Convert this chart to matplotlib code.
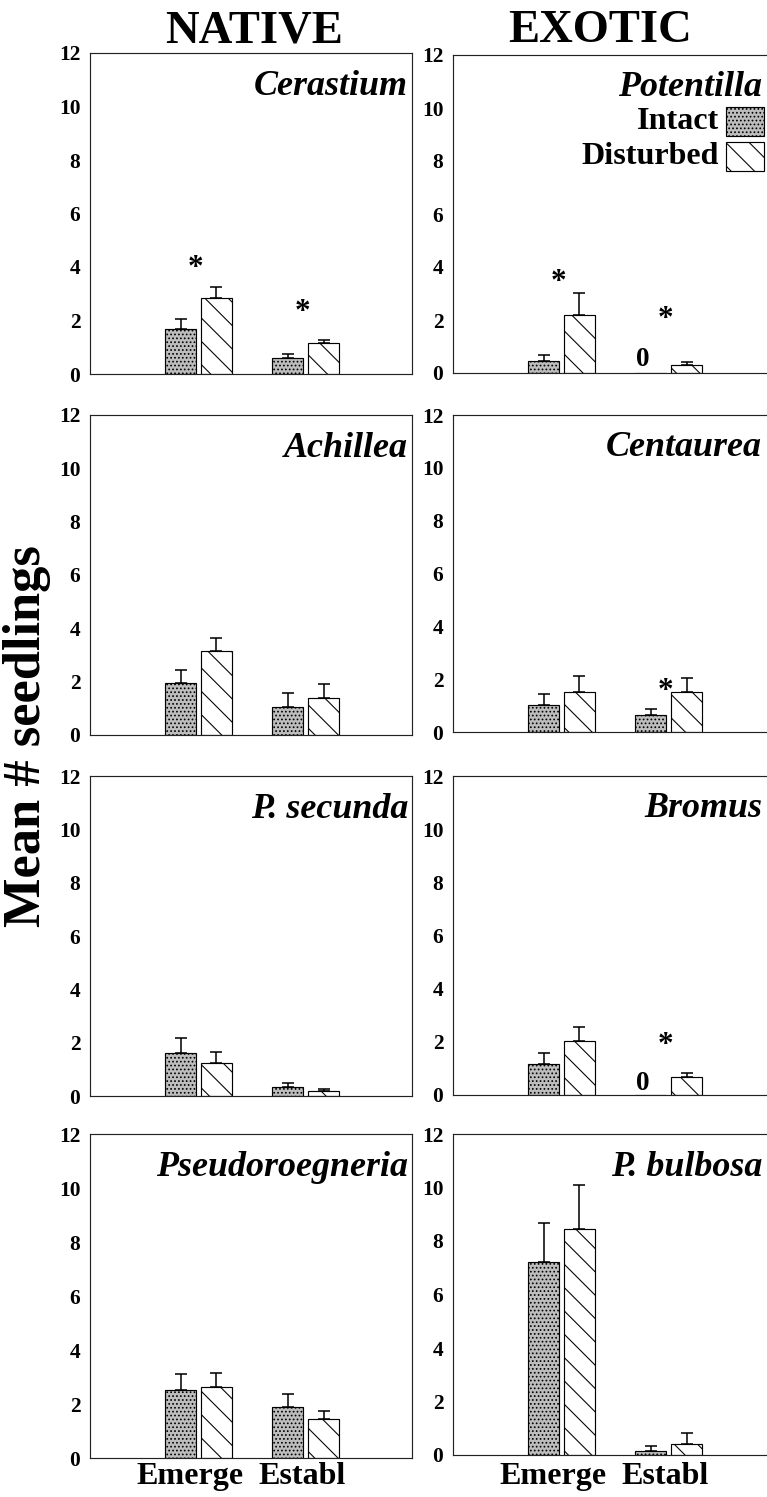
import matplotlib
matplotlib.use('Agg')
import matplotlib.pyplot as plt
from matplotlib.patches import Rectangle
import numpy as np

plt.rcParams['font.family'] = ['Liberation Serif', 'DejaVu Serif']
plt.rcParams['font.weight'] = 'bold'
plt.rcParams['hatch.linewidth'] = 0.55
plt.rcParams['hatch.color'] = 'black'

# ---------------- data ----------------
stages = ['Emerge', 'Establ']
native_species = ['Cerastium', 'Achillea', 'P. secunda', 'Pseudoroegneria']
exotic_species = ['Potentilla', 'Centaurea', 'Bromus', 'P. bulbosa']
species = native_species + exotic_species

intact_emerge = [1.68, 1.95, 1.60, 2.52, 0.46, 1.02, 1.17, 7.20]
intact_establ = [0.61, 1.05, 0.35, 1.89, 0.00, 0.64, 0.00, 0.15]
disturbed_emerge = [2.85, 3.15, 1.23, 2.63, 2.19, 1.52, 2.04, 8.45]
disturbed_establ = [1.16, 1.39, 0.20, 1.44, 0.30, 1.52, 0.68, 0.41]

intact_emerge_se = [0.38, 0.49, 0.57, 0.58, 0.22, 0.42, 0.41, 1.47]
intact_establ_se = [0.13, 0.52, 0.15, 0.48, 0.00, 0.23, 0.00, 0.18]
disturbed_emerge_se = [0.40, 0.49, 0.41, 0.52, 0.83, 0.60, 0.53, 1.65]
disturbed_establ_se = [0.11, 0.52, 0.06, 0.30, 0.13, 0.53, 0.15, 0.41]

# significance stars: species, stage index, height
star_species = ['Cerastium', 'Cerastium', 'Potentilla', 'Potentilla', 'Centaurea', 'Bromus']
star_stage = [0, 1, 0, 1, 1, 1]
star_height = [3.96, 2.30, 3.40, 2.00, 1.55, 1.88]

# zero labels on intact establishment
zero_species = ['Potentilla', 'Bromus']
zero_height = [0.50, 0.45]

yticks = [0, 2, 4, 6, 8, 10, 12]

# ---------------- layout ----------------
W, H, DPI = 767, 1497, 140
fig = plt.figure(figsize=(W / DPI, H / DPI), dpi=DPI)

col_left_px = [90, 453]
width_px = 322
rows_px = [
    [(53, 374), (415, 735), (776, 1096), (1134, 1458)],
    [(55, 373), (415, 732), (776, 1095), (1134, 1455)],
]
title_x = [0.988, 0.96]
xlabel_pad = [2, 3.5]

INTACT_COLOR = '#bdbdbd'
DOTS = '......'
LINES = '\\\\'
off = 0.168
bw = 0.29
xg = np.array([0.0, 1.0])

axes = {}
for c, names in enumerate([native_species, exotic_species]):
    for r, name in enumerate(names):
        top, bot = rows_px[c][r]
        ax = fig.add_axes([col_left_px[c] / W, 1 - bot / H, width_px / W, (bot - top) / H])
        axes[name] = ax
        i = species.index(name)
        im = [intact_emerge[i], intact_establ[i]]
        dm = [disturbed_emerge[i], disturbed_establ[i]]
        ise = [intact_emerge_se[i], intact_establ_se[i]]
        dse = [disturbed_emerge_se[i], disturbed_establ_se[i]]

        ax.bar(xg - off, im, width=bw, color=INTACT_COLOR, edgecolor='black',
               linewidth=0.6, hatch=DOTS, zorder=2)
        ax.bar(xg + off, dm, width=bw, color='white', edgecolor='black',
               linewidth=0.6, hatch=LINES, zorder=2)
        for xs, m, s in [(xg - off, im, ise), (xg + off, dm, dse)]:
            for xx, mm, ss in zip(xs, m, s):
                if ss > 0:
                    ax.errorbar([xx], [mm], yerr=[[0], [ss]], fmt='none', ecolor='black',
                                elinewidth=0.8, capsize=2.9, capthick=0.8, zorder=3)

        ax.set_xlim(-1.014, 1.995)
        ax.set_ylim(0, 12)
        ax.set_yticks(yticks)
        ax.tick_params(axis='y', length=0, pad=5, labelsize=11)
        for lab in ax.get_yticklabels():
            lab.set_fontweight('bold')
        if r == 3:
            ax.set_xticks([-0.08, 0.97])
            ax.set_xticklabels(stages, fontsize=16.5, fontweight='bold')
            ax.tick_params(axis='x', length=0, pad=xlabel_pad[c])
        else:
            ax.set_xticks([])
        for sp in ax.spines.values():
            sp.set_linewidth(0.6)
            sp.set_color('#222222')

        ax.text(title_x[c], 0.87, name, transform=ax.transAxes, ha='right', va='baseline',
                fontsize=18.5, fontstyle='italic', fontweight='bold')

for sname, st, hgt in zip(star_species, star_stage, star_height):
    axes[sname].text(xg[st] - 0.03, hgt, '*', ha='center', va='center', fontsize=16,
                     fontweight='bold')

for sname, hgt in zip(zero_species, zero_height):
    axes[sname].text(xg[1] - off - 0.07, hgt, '0', ha='center', va='center', fontsize=14,
                     fontweight='bold')

# legend drawn in Potentilla panel
lax = axes['Potentilla']
lax.add_patch(Rectangle((0.848, 0.745), 0.118, 0.091, transform=lax.transAxes,
                        facecolor=INTACT_COLOR, edgecolor='black', linewidth=0.6,
                        hatch=DOTS, zorder=4))
lax.add_patch(Rectangle((0.848, 0.635), 0.118, 0.091, transform=lax.transAxes,
                        facecolor='white', edgecolor='black', linewidth=0.6,
                        hatch=LINES, zorder=4))
lax.text(0.826, 0.79, 'Intact', transform=lax.transAxes, ha='right', va='center',
         fontsize=16.5, fontweight='bold')
lax.text(0.826, 0.68, 'Disturbed', transform=lax.transAxes, ha='right', va='center',
         fontsize=16.5, fontweight='bold')

fig.text(0.331, 0.979, 'NATIVE', ha='center', va='center', fontsize=24, fontweight='bold')
fig.text(0.782, 0.979, 'EXOTIC', ha='center', va='center', fontsize=24, fontweight='bold')
fig.text(0.035, 0.508, 'Mean # seedlings', ha='center', va='center', rotation=90,
         fontsize=27, fontweight='bold')

fig.savefig('out.png', dpi=DPI)
